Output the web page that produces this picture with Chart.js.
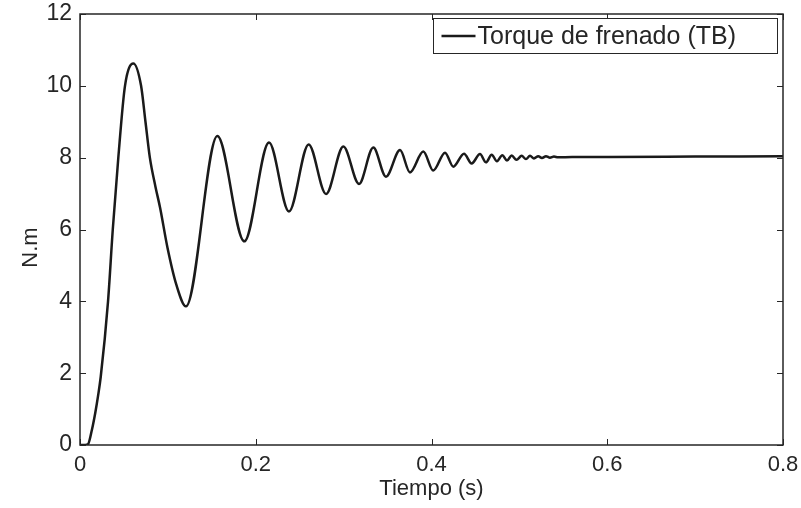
<!DOCTYPE html>
<html>
<head>
<meta charset="utf-8">
<title>Torque de frenado</title>
<script src="https://cdn.jsdelivr.net/npm/chart.js@4.4.1/dist/chart.umd.min.js"></script>
<style>
    html, body { margin: 0; padding: 0; background: #ffffff; }
    #wrap { width: 801px; height: 508px; }
</style>
</head>
<body>
<div id="wrap"><canvas id="torqueChart" width="801" height="508"></canvas></div>
<script>
// values
const timeValues = [0, 0.006, 0.0091, 0.0137, 0.0174, 0.0205, 0.0236,
    0.0319, 0.0373, 0.0436, 0.0512, 0.0607,
    0.0695, 0.0745, 0.0795, 0.0858, 0.0912, 0.0995, 0.1098, 0.1206,
    0.1563, 0.187,
    0.2151, 0.2378, 0.2602, 0.28, 0.2997, 0.3175,
    0.3338, 0.3482, 0.3642, 0.3755, 0.3907, 0.402, 0.4154, 0.4248,
    0.437, 0.4457, 0.4552, 0.462, 0.4685, 0.4745,
    0.4806, 0.4859, 0.4913, 0.4967, 0.5026, 0.5075,
    0.5121, 0.5166, 0.5215, 0.5257, 0.5303, 0.5348,
    0.5394, 0.544, 0.56, 0.6, 0.7, 0.8];

const torqueValues = [0, 0, 0.02, 0.44, 0.9, 1.36, 1.9,
    4.0, 6.0, 8.0, 10.0, 10.62,
    10.0, 9.0, 8.0, 7.2, 6.6, 5.5, 4.45, 3.86,
    8.6, 5.67,
    8.42, 6.5, 8.37, 6.99, 8.31, 7.27,
    8.28, 7.47, 8.21, 7.59, 8.17, 7.64, 8.14, 7.75,
    8.11, 7.84, 8.10, 7.87, 8.08, 7.90,
    8.07, 7.92, 8.06, 7.94, 8.05, 7.96,
    8.05, 7.98, 8.04, 7.99, 8.04, 8.0,
    8.03, 8.01, 8.02, 8.02, 8.03, 8.04];

const xTicks = [0, 0.2, 0.4, 0.6, 0.8];
const yTicks = [0, 2, 4, 6, 8, 10, 12];
const seriesLabel = 'Torque de frenado (TB)';
const xTitle = 'Tiempo (s)';
const yTitle = 'N.m';

const textColor = '#262626';
const lineColor = '#1a1a1a';
const fontFamily = '"Liberation Sans", Arial, Helvetica, sans-serif';

// MATLAB style box, inward ticks, y label and boxed legend inside the axes
const matlabFrame = {
    id: 'matlabFrame',
    afterDraw(chart) {
        const { ctx, chartArea: a, scales } = chart;
        const len = 6;
        ctx.save();
        ctx.strokeStyle = textColor;
        ctx.lineWidth = 1;
        ctx.beginPath();
        xTicks.forEach(v => {
            const px = Math.round(scales.x.getPixelForValue(v)) + 0.5;
            ctx.moveTo(px, a.bottom); ctx.lineTo(px, a.bottom - len);
            ctx.moveTo(px, a.top); ctx.lineTo(px, a.top + len);
        });
        yTicks.forEach(v => {
            const py = Math.round(scales.y.getPixelForValue(v)) + 0.5;
            ctx.moveTo(a.left, py); ctx.lineTo(a.left + len, py);
            ctx.moveTo(a.right, py); ctx.lineTo(a.right - len, py);
        });
        ctx.stroke();

        ctx.lineWidth = 1.5;
        ctx.strokeRect(a.left, a.top, a.right - a.left, a.bottom - a.top);

        // y axis label, sits a bit below the middle like the original
        ctx.save();
        ctx.translate(31, (a.top + a.bottom) / 2 + 18);
        ctx.rotate(-Math.PI / 2);
        ctx.fillStyle = textColor;
        ctx.font = '22px ' + fontFamily;
        ctx.textAlign = 'center';
        ctx.textBaseline = 'middle';
        ctx.fillText(yTitle, 0, 0);
        ctx.restore();

        // legend
        const boxW = 344, boxH = 35;
        const bx = a.right - 6 - boxW + 0.5;
        const by = a.top + 4 + 0.5;
        ctx.fillStyle = '#ffffff';
        ctx.fillRect(bx, by, boxW, boxH);
        ctx.lineWidth = 1;
        ctx.strokeRect(bx, by, boxW, boxH);

        const ds = chart.data.datasets[0];
        ctx.strokeStyle = ds.borderColor;
        ctx.lineWidth = ds.borderWidth;
        ctx.beginPath();
        ctx.moveTo(bx + 8, by + boxH / 2);
        ctx.lineTo(bx + 42, by + boxH / 2);
        ctx.stroke();

        ctx.fillStyle = textColor;
        ctx.font = '25px ' + fontFamily;
        ctx.textBaseline = 'middle';
        ctx.textAlign = 'left';
        ctx.fillText(ds.label, bx + 44, by + boxH / 2 + 1);
        ctx.restore();
    }
};

const ctx = document.getElementById('torqueChart');
new Chart(ctx, {
    type: 'line',
    data: {
        datasets: [{
            label: seriesLabel,
            data: timeValues.map((t, i) => ({ x: t, y: torqueValues[i] })),
            borderColor: lineColor,
            borderWidth: 2.5,
            pointRadius: 0,
            fill: false,
            cubicInterpolationMode: 'monotone'
        }]
    },
    options: {
        responsive: false,
        animation: false,
        layout: { padding: { top: 14, right: 18, left: 0, bottom: 0 } },
        plugins: {
            legend: { display: false },
            tooltip: { enabled: false }
        },
        scales: {
            x: {
                type: 'linear',
                position: 'bottom',
                min: 0,
                max: 0.8,
                grid: { display: false, drawTicks: false },
                border: { display: false },
                afterBuildTicks: (scale) => { scale.ticks = xTicks.map(v => ({ value: v })); },
                afterFit: (scale) => {
                    scale.height = 63;
                    scale.paddingLeft = 0;
                    scale.paddingRight = 0;
                },
                ticks: {
                    color: textColor,
                    font: { family: fontFamily, size: 22 },
                    padding: 7,
                    maxRotation: 0,
                    callback: (v) => String(v)
                },
                title: {
                    display: true,
                    text: xTitle,
                    color: textColor,
                    font: { family: fontFamily, size: 22 },
                    padding: { top: 0, bottom: 6 }
                }
            },
            y: {
                min: 0,
                max: 12,
                grid: { display: false, drawTicks: false },
                border: { display: false },
                afterBuildTicks: (scale) => { scale.ticks = yTicks.map(v => ({ value: v })); },
                afterFit: (scale) => {
                    scale.width = 80;
                    scale.paddingTop = 0;
                    scale.paddingBottom = 0;
                },
                ticks: {
                    color: textColor,
                    font: { family: fontFamily, size: 23 },
                    padding: 8,
                    callback: (v) => String(v)
                }
            }
        }
    },
    plugins: [matlabFrame]
});
</script>
</body>
</html>
